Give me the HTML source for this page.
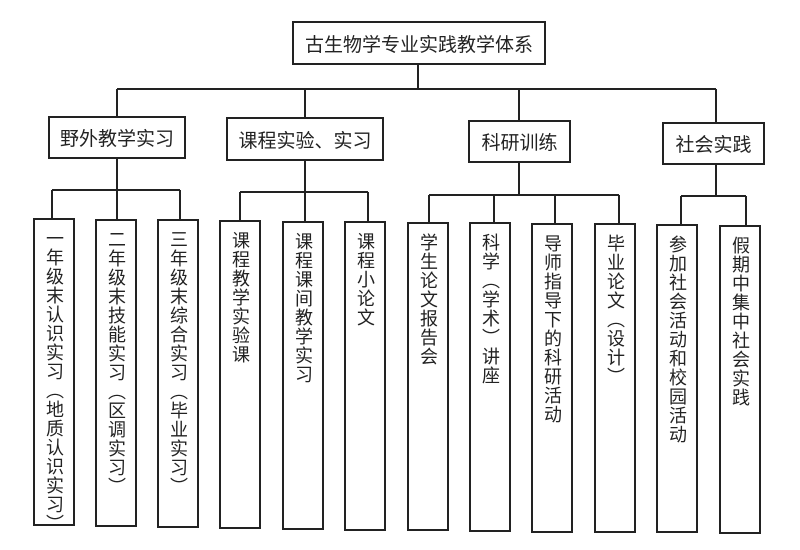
<!DOCTYPE html>
<html><head><meta charset="utf-8"><style>
body{margin:0;width:800px;height:550px;background:#fff;position:relative;overflow:hidden;font-family:"Liberation Sans","Noto Sans CJK SC",sans-serif;color:#222}
.b{position:absolute;border:2px solid #222;box-sizing:border-box;background:#fff}
.h{display:flex;align-items:center;justify-content:center;font-size:19px}
.v{writing-mode:vertical-rl;font-size:18px;line-height:18px;letter-spacing:1px;display:flex;align-items:center;padding-top:9px;white-space:nowrap;overflow:visible}
svg{position:absolute;left:0;top:0}
</style></head><body>
<svg width="800" height="550"><g stroke="#222" stroke-width="2" fill="none">
<path d="M418 64V89M117 89H716M117 89V116M305 89V117M519 89V120M716 89V122"/>
<path d="M117 158V190M52 190H180M52 190V218M117 190V219M180 190V219"/>
<path d="M305 160V192M240 192H368M240 192V220M305 192V221M368 192V221"/>
<path d="M519 162V195M429 195H619M429 195V222M494 195V222M555 195V223M619 195V223"/>
<path d="M716 164V196M681 196H746M681 196V224M746 196V225"/>
</g></svg>
<div class="b h" style="left:292px;top:21px;width:254px;height:44px">古生物学专业实践教学体系</div>
<div class="b h" style="left:48px;top:116px;width:138px;height:43px">野外教学实习</div>
<div class="b h" style="left:226px;top:117px;width:158px;height:44px">课程实验、实习</div>
<div class="b h" style="left:468px;top:120px;width:103px;height:43px">科研训练</div>
<div class="b h" style="left:662px;top:122px;width:103px;height:43px">社会实践</div>
<div class="b v" style="left:33px;top:218px;width:42px;height:308px">一年级末认识实习（地质认识实习）</div>
<div class="b v" style="left:95px;top:219px;width:42px;height:308px">二年级末技能实习（区调实习）</div>
<div class="b v" style="left:157px;top:219px;width:42px;height:309px">三年级末综合实习（毕业实习）</div>
<div class="b v" style="left:219px;top:220px;width:42px;height:309px">课程教学实验课</div>
<div class="b v" style="left:282px;top:221px;width:42px;height:309px">课程课间教学实习</div>
<div class="b v" style="left:344px;top:221px;width:42px;height:310px">课程小论文</div>
<div class="b v" style="left:407px;top:222px;width:42px;height:309px">学生论文报告会</div>
<div class="b v" style="left:469px;top:222px;width:42px;height:310px">科学（学术）讲座</div>
<div class="b v" style="left:531px;top:223px;width:42px;height:310px">导师指导下的科研活动</div>
<div class="b v" style="left:594px;top:223px;width:42px;height:310px">毕业论文（设计）</div>
<div class="b v" style="left:656px;top:224px;width:42px;height:309px">参加社会活动和校园活动</div>
<div class="b v" style="left:719px;top:225px;width:42px;height:309px">假期中集中社会实践</div>
</body></html>
